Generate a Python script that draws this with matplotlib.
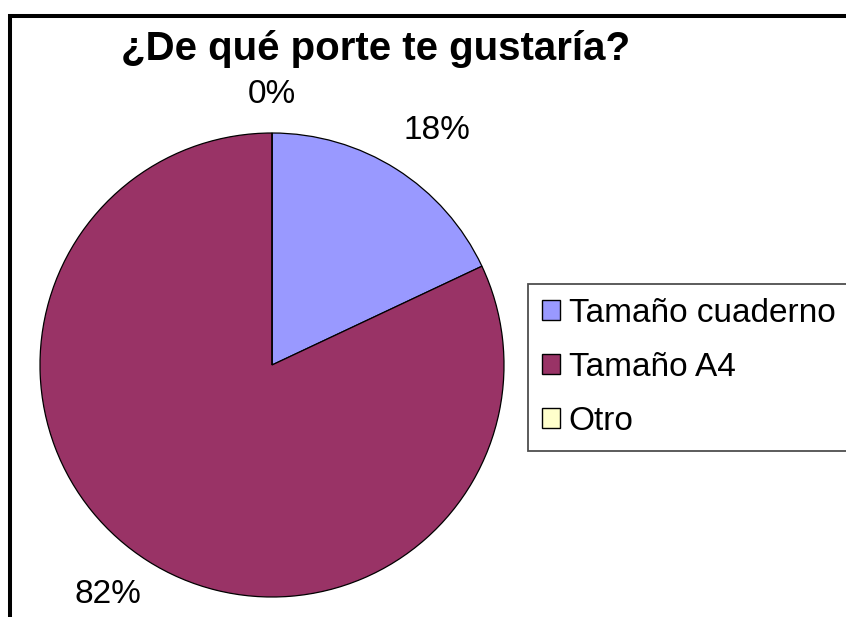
import matplotlib
matplotlib.use("Agg")
import matplotlib.pyplot as plt
from matplotlib.lines import Line2D
import numpy as np

plt.rcParams['font.family'] = ['Liberation Sans', 'DejaVu Sans']

title = "¿De qué porte te gustaría?"
categories = ["Tamaño cuaderno", "Tamaño A4", "Otro"]
values = [18, 82, 0]
colors = ["#9999FF", "#993366", "#FFFFCC"]
label_dist = [1.237, 1.215, 1.164]
label_shift_deg = [-2.8, -3.1, 0.0]

W, H = 846, 617
fig = plt.figure(figsize=(W / 100, H / 100), dpi=100)
fig.patch.set_facecolor("white")

# outer border (left and top only visible)
fig.add_artist(Line2D([10 / W, 10 / W], [-0.01, 1 - 14 / H], color="black", lw=2.9,
                      transform=fig.transFigure, solid_capstyle="butt"))
fig.add_artist(Line2D([8 / W, 1.01], [1 - 16 / H, 1 - 16 / H], color="black", lw=2.9,
                      transform=fig.transFigure, solid_capstyle="butt"))

cx, cy, r = 272, 365, 232
ax = fig.add_axes([(cx - r) / W, (H - cy - r) / H, 2 * r / W, 2 * r / H])

total = sum(values)
pct_labels = [f"{v / total * 100:.0f}%" for v in values]
wedges, texts = ax.pie(values, colors=colors, startangle=90, counterclock=False,
                       labels=pct_labels, labeldistance=1.2,
                       wedgeprops=dict(edgecolor="black", linewidth=0.9),
                       textprops=dict(fontsize=24, color="black"))
ax.set_xlim(-1, 1)
ax.set_ylim(-1, 1)
ax.set_aspect("equal")
ax.axis("off")
for w, t, d, s in zip(wedges, texts, label_dist, label_shift_deg):
    mid = np.deg2rad((w.theta1 + w.theta2) / 2 + s)
    t.set_position((d * np.cos(mid), d * np.sin(mid)))
    t.set_ha("center")
    t.set_va("center")
    t.set_clip_on(False)

fig.text(121 / W, 1 - 49 / H, title, fontsize=29, fontweight="bold",
         ha="left", va="center")

leg = fig.legend(wedges, categories, loc="upper left",
                 bbox_to_anchor=(528 / W, 1 - 284 / H), borderaxespad=0,
                 fontsize=24, frameon=True, fancybox=False,
                 handlelength=0.55, handleheight=0.55, handletextpad=0.25,
                 labelspacing=0.69, borderpad=0.42)
leg.get_frame().set_edgecolor("#222222")
leg.get_frame().set_linewidth(1.3)
for h in leg.legend_handles:
    h.set_edgecolor("black")
    h.set_linewidth(1.0)

fig.savefig("out.png", dpi=100, facecolor="white")
